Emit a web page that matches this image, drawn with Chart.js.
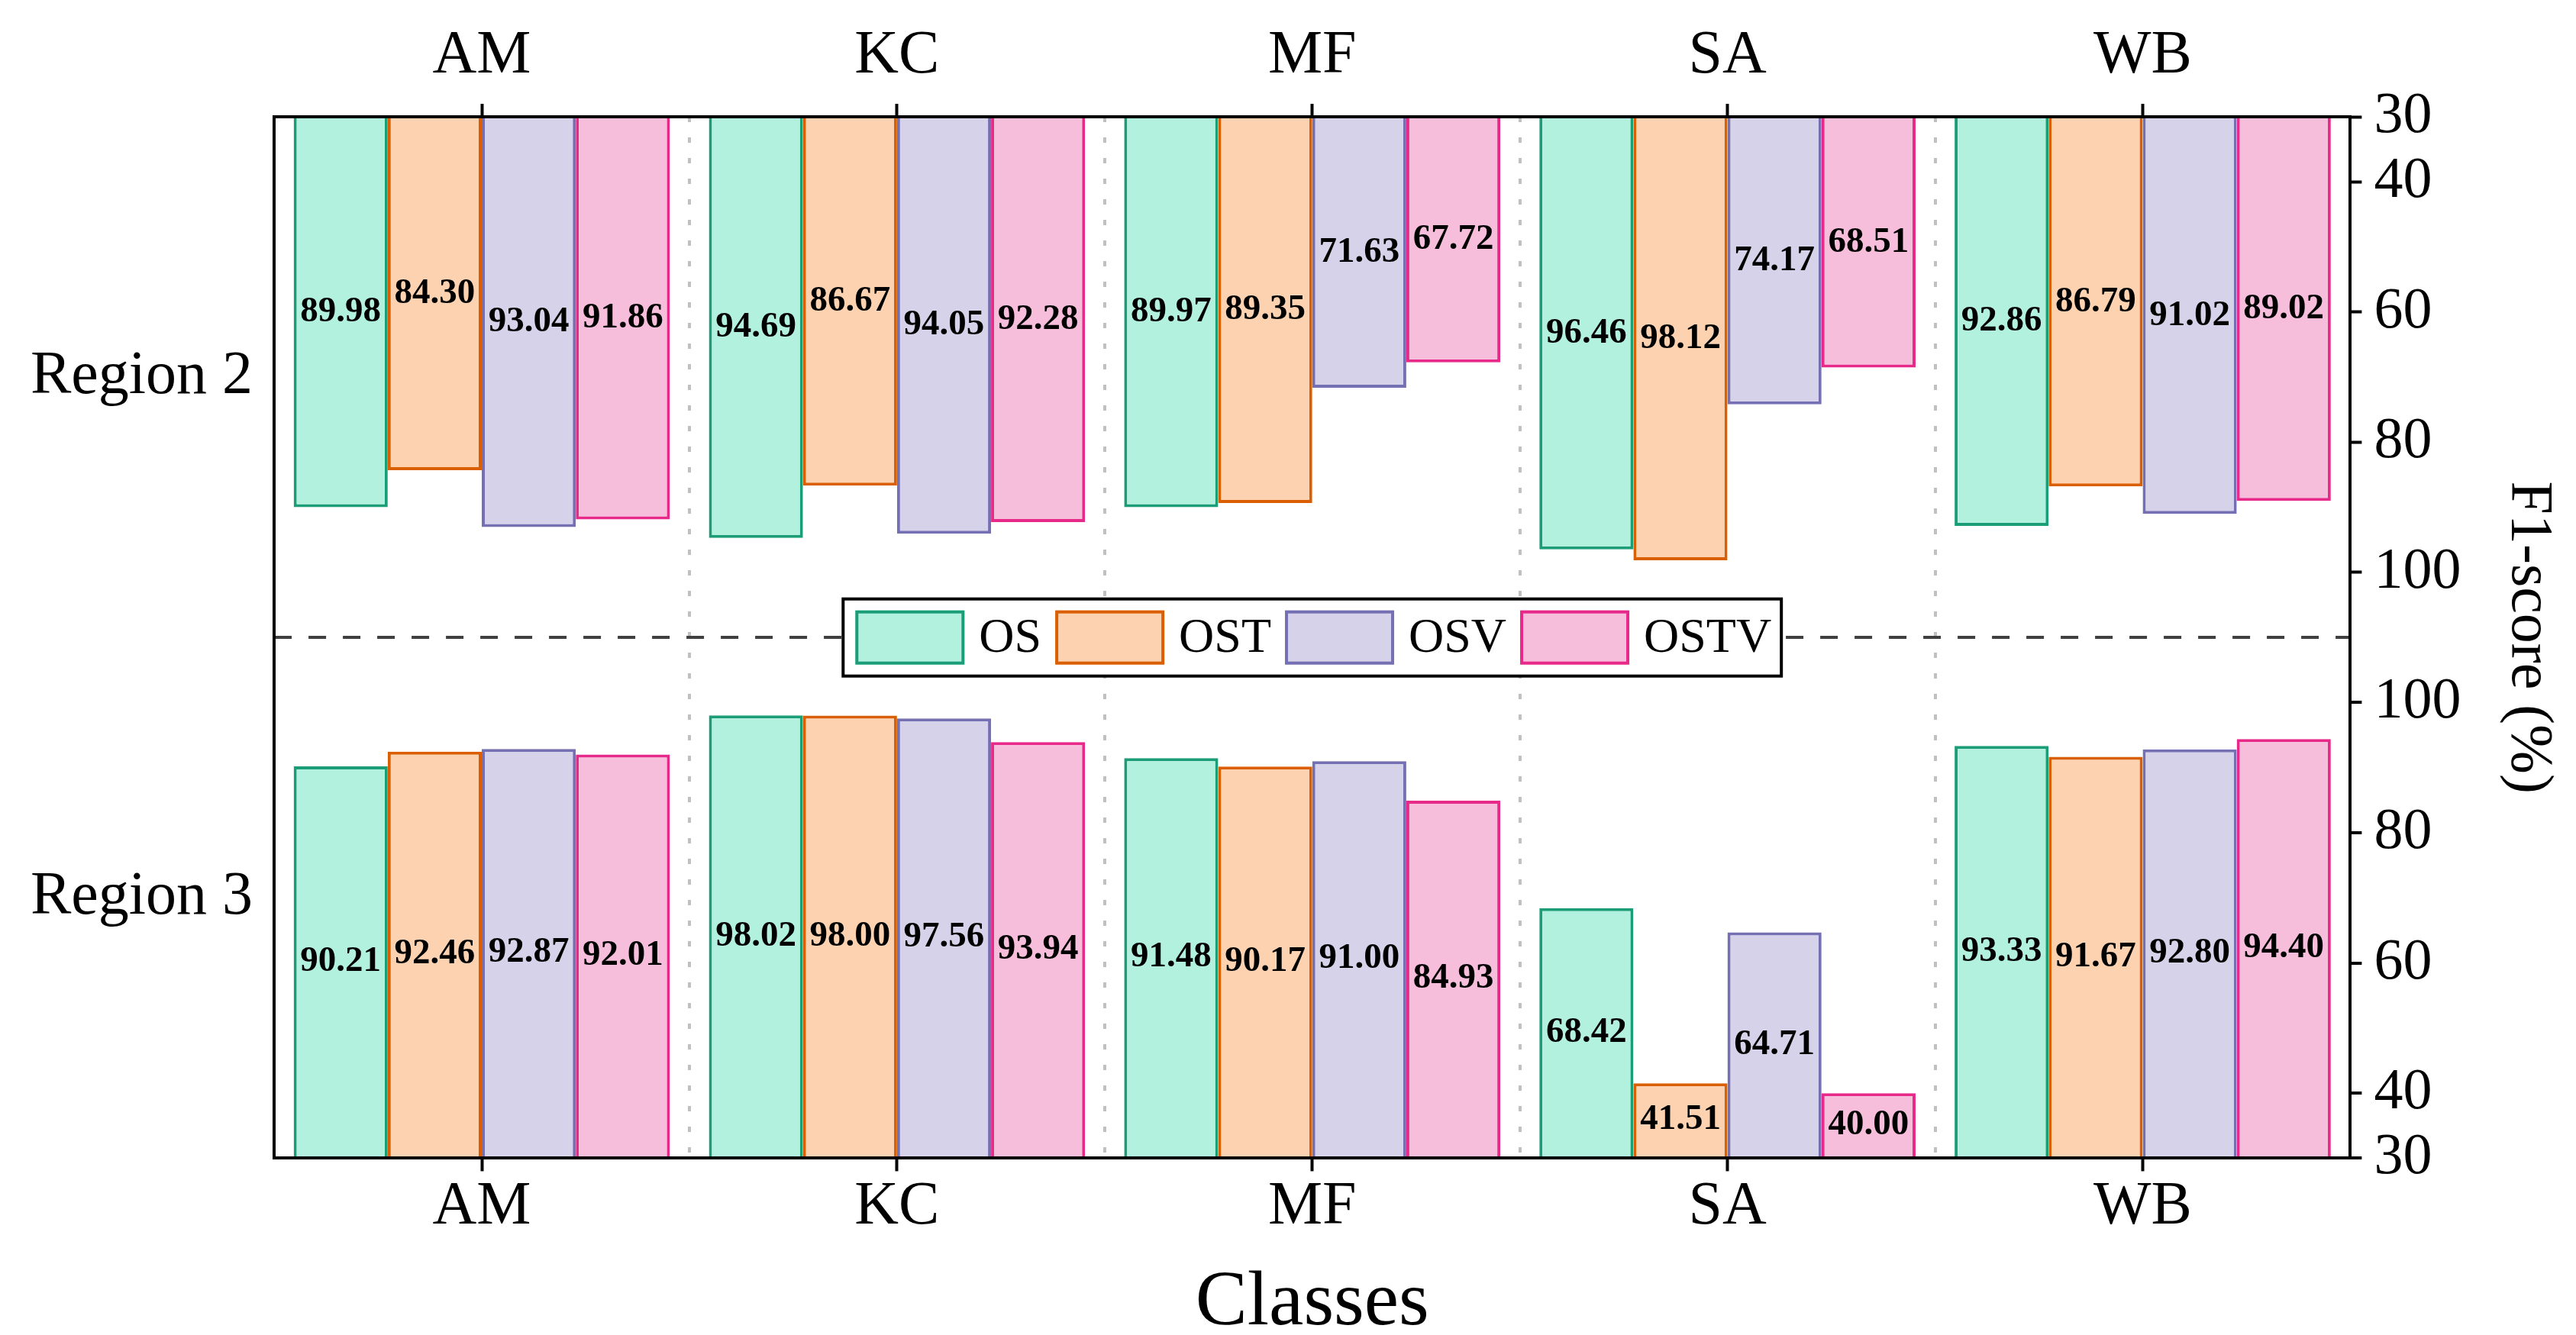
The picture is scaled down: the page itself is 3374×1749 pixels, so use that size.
<!DOCTYPE html>
<html>
<head>
<meta charset="utf-8">
<script src="https://cdn.jsdelivr.net/npm/chart.js@4.4.0/dist/chart.umd.min.js"></script>
<style>
  html, body { margin: 0; padding: 0; background: #fff; }
  canvas { display: block; }
</style>
</head>
<body>
<canvas id="f1Chart" width="3374" height="1749"></canvas>
<script>
const classes = ['AM', 'KC', 'MF', 'SA', 'WB'];
const methods = ['OS', 'OST', 'OSV', 'OSTV'];
const regions = ['Region 2', 'Region 3'];
const yTicks = [30, 40, 60, 80, 100];

// Region 2 (top panel, bars hang down from 30)
const region2OS   = [89.98, 94.69, 89.97, 96.46, 92.86];
const region2OST  = [84.30, 86.67, 89.35, 98.12, 86.79];
const region2OSV  = [93.04, 94.05, 71.63, 74.17, 91.02];
const region2OSTV = [91.86, 92.28, 67.72, 68.51, 89.02];

// Region 3 (bottom panel)
const region3OS   = [90.21, 98.02, 91.48, 68.42, 93.33];
const region3OST  = [92.46, 98.00, 90.17, 41.51, 91.67];
const region3OSV  = [92.87, 97.56, 91.00, 64.71, 92.80];
const region3OSTV = [92.01, 93.94, 84.93, 40.00, 94.40];

const fills = ['#b3f1df', '#fdd2b1', '#d6d2e9', '#f7bedc'];
const edges = ['#1b9e77', '#d95f02', '#7570b3', '#e7298a'];
const serif = '"Liberation Serif", "Times New Roman", serif';

function makeSet(label, values, i, axis) {
    return {
        label: label,
        data: values,
        xAxisID: 'x',
        yAxisID: axis,
        stack: label, // same slot for both regions
        base: 30,
        backgroundColor: fills[i],
        borderColor: edges[i],
        borderWidth: 4,
        barPercentage: 1,
        categoryPercentage: 0.906,
    };
}

const region2 = [region2OS, region2OST, region2OSV, region2OSTV];
const region3 = [region3OS, region3OST, region3OSV, region3OSTV];
const datasets = methods.map((m, i) => makeSet(m, region2[i], i, 'y2'))
    .concat(methods.map((m, i) => makeSet(m, region3[i], i, 'y3')));

// numbers in the middle of every bar
const valueLabels = {
    id: 'valueLabels',
    afterDatasetsDraw(chart) {
        const ctx = chart.ctx;
        ctx.save();
        ctx.font = 'bold 47px ' + serif;
        ctx.fillStyle = '#000';
        ctx.textAlign = 'center';
        ctx.textBaseline = 'middle';
        chart.data.datasets.forEach((ds, di) => {
            chart.getDatasetMeta(di).data.forEach((bar, j) => {
                ctx.fillText(ds.data[j].toFixed(2), bar.x, (bar.y + bar.base) / 2);
            });
        });
        ctx.restore();
    }
};

// boxed legend sitting on the split line
const boxLegend = {
    id: 'boxLegend',
    afterDraw(chart) {
        const ctx = chart.ctx;
        const area = chart.chartArea;
        const items = chart.data.datasets.slice(0, methods.length);
        const cy = chart.scales.y3.getPixelForValue(110);
        const cx = (area.left + area.right) / 2;
        const patchW = 143, patchH = 71, padL = 16, padR = 13, gapText = 19, gapItem = 18, boxH = 101;

        ctx.save();
        ctx.font = '64px ' + serif;
        const widths = items.map(d => ctx.measureText(d.label).width);
        const total = padL + padR + items.length * (patchW + gapText)
            + widths.reduce((a, b) => a + b, 0) + (items.length - 1) * gapItem;
        const x0 = cx - total / 2;
        const y0 = cy - boxH / 2;

        ctx.fillStyle = '#fff';
        ctx.fillRect(x0, y0, total, boxH);
        ctx.lineWidth = 4;
        ctx.strokeStyle = '#000';
        ctx.strokeRect(x0, y0, total, boxH);

        let x = x0 + padL;
        items.forEach((d, i) => {
            ctx.fillStyle = d.backgroundColor;
            ctx.fillRect(x, cy - patchH / 2, patchW, patchH);
            ctx.strokeStyle = d.borderColor;
            ctx.strokeRect(x + 2, cy - patchH / 2 + 2, patchW - 4, patchH - 4);
            x += patchW + gapText;
            ctx.fillStyle = '#000';
            ctx.textAlign = 'left';
            ctx.textBaseline = 'middle';
            ctx.fillText(d.label, x, cy + 2);
            x += widths[i] + gapItem;
        });
        ctx.restore();
    }
};

const axisBorder = { display: true, color: '#000', width: 4, z: 1 };
const centerTicks = {
    display: true,
    drawOnChartArea: false,
    drawTicks: true,
    offset: false,
    tickLength: 17,
    tickWidth: 4,
    tickColor: '#000',
};

new Chart(document.getElementById('f1Chart'), {
    type: 'bar',
    data: { labels: classes, datasets: datasets },
    plugins: [valueLabels, boxLegend],
    options: {
        responsive: false,
        animation: false,
        devicePixelRatio: 1,
        layout: { padding: { left: 12, right: 16, top: 12, bottom: 0 } },
        plugins: {
            legend: { display: false },
            tooltip: { enabled: false },
        },
        scales: {
            x: {
                type: 'category',
                position: 'bottom',
                offset: true,
                grid: centerTicks,
                border: axisBorder,
                ticks: { color: '#000', font: { family: serif, size: 80 }, padding: 0, maxRotation: 0, autoSkip: false },
                title: {
                    display: true,
                    text: 'Classes',
                    color: '#000',
                    font: { family: serif, size: 102, lineHeight: 0.8 },
                    padding: { top: 37, bottom: 0 },
                },
            },
            xt: {
                type: 'category',
                position: 'top',
                labels: classes,
                offset: true,
                grid: centerTicks,
                border: axisBorder,
                ticks: { color: '#000', font: { family: serif, size: 80 }, padding: 14, maxRotation: 0, autoSkip: false },
            },
            xg: {
                // dotted separators between classes
                type: 'category',
                position: 'bottom',
                labels: classes,
                offset: true,
                grid: {
                    display: true,
                    drawOnChartArea: true,
                    drawTicks: false,
                    offset: true,
                    color: '#c0c0c0',
                    lineWidth: 4,
                },
                border: { display: false, dash: [7, 20] },
                ticks: { display: false },
            },
            yl: {
                type: 'category',
                position: 'left',
                labels: regions,
                offset: true,
                grid: { display: false, drawTicks: false },
                border: axisBorder,
                ticks: { color: '#000', font: { family: serif, size: 80 }, padding: 28 },
            },
            y2: {
                type: 'linear',
                position: 'right',
                stack: 'f1',
                stackWeight: 1,
                stacked: false,
                reverse: true,
                min: 30,
                max: 110,
                afterBuildTicks: s => { s.ticks = yTicks.map(v => ({ value: v })); },
                grid: { drawOnChartArea: false, tickLength: 15, tickWidth: 4, tickColor: '#000' },
                border: axisBorder,
                ticks: { color: '#000', font: { family: serif, size: 76 }, padding: 16, autoSkip: false },
            },
            y3: {
                type: 'linear',
                position: 'right',
                stack: 'f1',
                stackWeight: 1,
                stacked: false,
                min: 30,
                max: 110,
                afterBuildTicks: s => { s.ticks = yTicks.concat([110]).map(v => ({ value: v })); },
                grid: {
                    drawOnChartArea: true,
                    lineWidth: 4,
                    tickLength: 15,
                    tickWidth: 4,
                    color: c => (c.tick && c.tick.value === 110) ? '#404040' : 'rgba(0,0,0,0)',
                    tickColor: c => (c.tick && c.tick.value === 110) ? 'rgba(0,0,0,0)' : '#000',
                },
                border: { display: true, color: '#000', width: 4, z: 1, dash: [23, 22] },
                ticks: {
                    color: '#000',
                    font: { family: serif, size: 76 },
                    padding: 16,
                    autoSkip: false,
                    callback: v => v === 110 ? '' : v,
                },
            },
            yr: {
                type: 'linear',
                position: 'right',
                grid: { display: false, drawTicks: false },
                border: { display: false },
                ticks: { display: false },
                title: {
                    display: true,
                    text: 'F1-score (%)',
                    color: '#000',
                    font: { family: serif, size: 78 },
                    padding: { top: 0, bottom: 25 },
                },
            },
        }
    }
});
</script>
</body>
</html>
